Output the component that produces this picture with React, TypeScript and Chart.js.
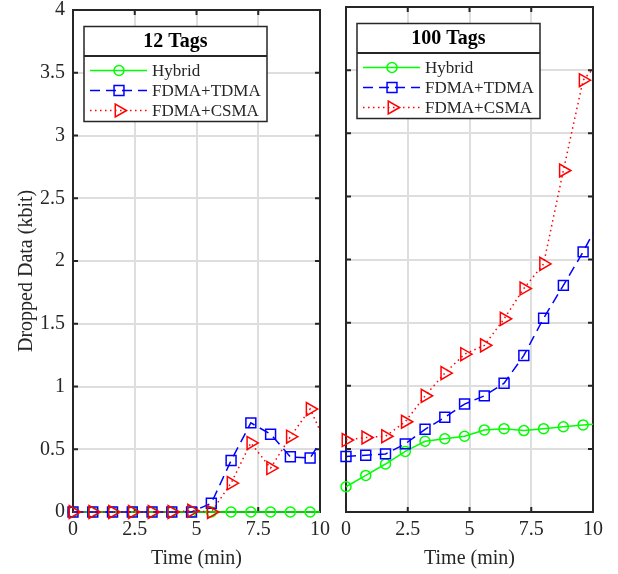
import React, { useEffect, useRef } from 'react';
import { Chart, registerables } from 'chart.js';

Chart.register(...registerables);

// Sampling instants (minutes); the last one lies past the axis limit and is clipped.
const TIME_MIN = [0, 0.8, 1.6, 2.4, 3.2, 4.0, 4.8, 5.6, 6.4, 7.2, 8.0, 8.8, 9.6, 10.4];

// 12 tags (kbit)
const HYBRID_12 = [0, 0, 0, 0, 0, 0, 0, 0, 0, 0, 0, 0, 0, 0];
const TDMA_12 = [0, 0, 0, 0, 0, 0, 0, 0.07, 0.41, 0.71, 0.62, 0.44, 0.43, 0.68];
const CSMA_12 = [0, 0, 0, 0, 0, 0, 0.01, 0, 0.23, 0.55, 0.35, 0.6, 0.82, 0.48];

// 100 tags (kbit)
const HYBRID_100 = [0.2, 0.29, 0.38, 0.48, 0.56, 0.58, 0.6, 0.65, 0.66, 0.645, 0.66, 0.675, 0.69, 0.7];
const TDMA_100 = [0.44, 0.45, 0.46, 0.54, 0.655, 0.75, 0.855, 0.92, 1.02, 1.24, 1.535, 1.795, 2.06, 2.36];
const CSMA_100 = [0.57, 0.59, 0.6, 0.715, 0.92, 1.1, 1.25, 1.32, 1.53, 1.77, 1.965, 2.705, 3.42, 3.6];

const SERIES_NAMES = ['Hybrid', 'FDMA+TDMA', 'FDMA+CSMA'];
const PANEL_TITLES = ['12 Tags', '100 Tags'];
const X_TICKS = ['0', '2.5', '5', '7.5', '10'];
const Y_TICKS = ['0', '0.5', '1', '1.5', '2', '2.5', '3', '3.5', '4'];
const X_TITLE = 'Time (min)';
const Y_TITLE = 'Dropped Data (kbit)';

const FAMILY = '"Liberation Serif", "Times New Roman", serif';
const INK = '#262626';
const GRID = '#dedede';

type MarkerStyle = {
  color: string;
  dash: number[];
  shape: 'circle' | 'rect' | 'triangle';
  radius: number;
  rotation: number;
};

const STYLES: MarkerStyle[] = [
  { color: '#00ff00', dash: [], shape: 'circle', radius: 5, rotation: 0 },
  { color: '#0000ff', dash: [10, 6], shape: 'rect', radius: 7, rotation: 0 },
  { color: '#ff0000', dash: [1.5, 3.5], shape: 'triangle', radius: 7.5, rotation: 90 },
];

function drawMarker(ctx: CanvasRenderingContext2D, s: MarkerStyle, x: number, y: number) {
  ctx.save();
  ctx.setLineDash([]);
  ctx.strokeStyle = s.color;
  ctx.lineWidth = 1.5;
  ctx.beginPath();
  if (s.shape === 'circle') {
    ctx.arc(x, y, s.radius, 0, Math.PI * 2);
  } else if (s.shape === 'rect') {
    const h = s.radius * Math.SQRT1_2;
    ctx.rect(x - h, y - h, 2 * h, 2 * h);
  } else {
    let rad = (s.rotation * Math.PI) / 180;
    ctx.moveTo(x + Math.sin(rad) * s.radius, y - Math.cos(rad) * s.radius);
    rad += (2 * Math.PI) / 3;
    ctx.lineTo(x + Math.sin(rad) * s.radius, y - Math.cos(rad) * s.radius);
    rad += (2 * Math.PI) / 3;
    ctx.lineTo(x + Math.sin(rad) * s.radius, y - Math.cos(rad) * s.radius);
    ctx.closePath();
  }
  ctx.stroke();
  ctx.restore();
}

function makePanelPlugin(title: string, withYTitle: boolean) {
  return {
    id: 'panelDecor',
    beforeDatasetsDraw(chart: any) {
      const { ctx, chartArea: a, scales } = chart;
      ctx.save();
      ctx.strokeStyle = INK;
      ctx.lineWidth = 2;
      ctx.beginPath();
      for (const t of scales.x.ticks) {
        const px = scales.x.getPixelForValue(t.value);
        ctx.moveTo(px, a.bottom);
        ctx.lineTo(px, a.bottom - 5);
        ctx.moveTo(px, a.top);
        ctx.lineTo(px, a.top + 5);
      }
      for (const t of scales.y.ticks) {
        const py = scales.y.getPixelForValue(t.value);
        ctx.moveTo(a.left, py);
        ctx.lineTo(a.left + 5, py);
        ctx.moveTo(a.right, py);
        ctx.lineTo(a.right - 5, py);
      }
      ctx.stroke();
      ctx.strokeRect(a.left, a.top, a.right - a.left, a.bottom - a.top);
      ctx.restore();
    },
    afterDatasetsDraw(chart: any) {
      const { ctx, chartArea: a } = chart;
      const bx = a.left + 11;
      const by = a.top + 16.5;
      const bw = 183;
      const bh = 95;
      ctx.save();
      ctx.fillStyle = '#ffffff';
      ctx.fillRect(bx, by, bw, bh);
      ctx.strokeStyle = INK;
      ctx.lineWidth = 1.5;
      ctx.strokeRect(bx, by, bw, bh);
      ctx.lineWidth = 2;
      ctx.beginPath();
      ctx.moveTo(bx, by + 29.5);
      ctx.lineTo(bx + bw, by + 29.5);
      ctx.stroke();

      ctx.fillStyle = '#000000';
      ctx.font = `bold 20px ${FAMILY}`;
      ctx.textAlign = 'center';
      ctx.textBaseline = 'middle';
      ctx.fillText(title, bx + bw / 2, by + 15.5);

      ctx.font = `17px ${FAMILY}`;
      ctx.textAlign = 'left';
      SERIES_NAMES.forEach((name, i) => {
        const s = STYLES[i];
        const y = by + 44 + i * 20;
        ctx.save();
        ctx.strokeStyle = s.color;
        ctx.lineWidth = 1.5;
        ctx.setLineDash(s.dash);
        ctx.beginPath();
        ctx.moveTo(bx + 6, y);
        ctx.lineTo(bx + 63, y);
        ctx.stroke();
        ctx.restore();
        drawMarker(ctx, s, bx + 35, y);
        ctx.fillStyle = INK;
        ctx.fillText(name, bx + 68, y + 1);
      });

      if (withYTitle) {
        ctx.save();
        ctx.translate(27, 362);
        ctx.rotate(-Math.PI / 2);
        ctx.font = `20px ${FAMILY}`;
        ctx.fillStyle = INK;
        ctx.textAlign = 'left';
        ctx.textBaseline = 'middle';
        ctx.fillText(Y_TITLE, 0, 0);
        ctx.restore();
      }
      ctx.restore();
    },
  };
}

type PanelProps = {
  series: number[][];
  title: string;
  isLeft: boolean;
  left: number;
  width: number;
  padRight: number;
};

function Panel({ series, title, isLeft, left, width, padRight }: PanelProps) {
  const ref = useRef<HTMLCanvasElement | null>(null);

  useEffect(() => {
    if (!ref.current) return;
    const tickFont = { family: FAMILY, size: 20 };
    const chart = new Chart(ref.current, {
      type: 'line',
      data: {
        datasets: series.map((values, i) => {
          const s = STYLES[i];
          return {
            label: SERIES_NAMES[i],
            data: TIME_MIN.map((t, j) => ({ x: t, y: values[j] })),
            borderColor: s.color,
            borderWidth: 1.5,
            borderDash: s.dash,
            pointStyle: s.shape,
            pointRadius: s.radius,
            pointRotation: s.rotation,
            pointBorderColor: s.color,
            pointBackgroundColor: 'rgba(0,0,0,0)',
            pointBorderWidth: 1.5,
            fill: false,
            tension: 0,
            clip: { left: 12, top: 12, right: 0, bottom: 12 },
            order: 3 - i,
          };
        }),
      },
      options: {
        animation: false,
        responsive: false,
        events: [],
        layout: { padding: { top: 17, right: padRight, bottom: 0, left: 0 } },
        plugins: { legend: { display: false }, tooltip: { enabled: false } },
        scales: {
          x: {
            type: 'linear',
            min: 0,
            max: 10,
            ticks: {
              stepSize: 2.5,
              padding: 6,
              font: tickFont,
              color: INK,
              maxRotation: 0,
              autoSkip: false,
              callback: (_v: any, i: number) => X_TICKS[i],
            },
            grid: { color: GRID, lineWidth: 2, drawTicks: false },
            border: { display: false },
            title: {
              display: true,
              text: X_TITLE,
              font: tickFont,
              color: INK,
              padding: { top: 0, bottom: 3 },
            },
            afterFit: (s: any) => {
              s.height = 62;
            },
          },
          y: {
            type: 'linear',
            min: 0,
            max: 4,
            ticks: {
              stepSize: 0.5,
              display: isLeft,
              padding: 8,
              font: tickFont,
              color: INK,
              autoSkip: false,
              callback: (_v: any, i: number) => Y_TICKS[i],
            },
            grid: { color: GRID, lineWidth: 2, drawTicks: false },
            border: { display: false },
            afterFit: (s: any) => {
              s.width = isLeft ? 73 : 13;
            },
          },
        },
      } as any,
      plugins: [makePanelPlugin(title, isLeft)],
    } as any);
    return () => chart.destroy();
  }, [series, title, isLeft, padRight]);

  return (
    <canvas
      ref={ref}
      width={width}
      height={584}
      style={{ position: 'absolute', left, top: -10, width, height: 584 }}
    />
  );
}

const SERIES_12 = [HYBRID_12, TDMA_12, CSMA_12];
const SERIES_100 = [HYBRID_100, TDMA_100, CSMA_100];

export default function App() {
  return (
    <div
      style={{
        position: 'fixed',
        left: 0,
        top: 0,
        width: 618,
        height: 574,
        overflow: 'hidden',
        background: '#ffffff',
      }}
    >
      <Panel series={SERIES_12} title={PANEL_TITLES[0]} isLeft={true} left={0} width={340} padRight={20} />
      <Panel series={SERIES_100} title={PANEL_TITLES[1]} isLeft={false} left={333} width={285} padRight={25} />
    </div>
  );
}
